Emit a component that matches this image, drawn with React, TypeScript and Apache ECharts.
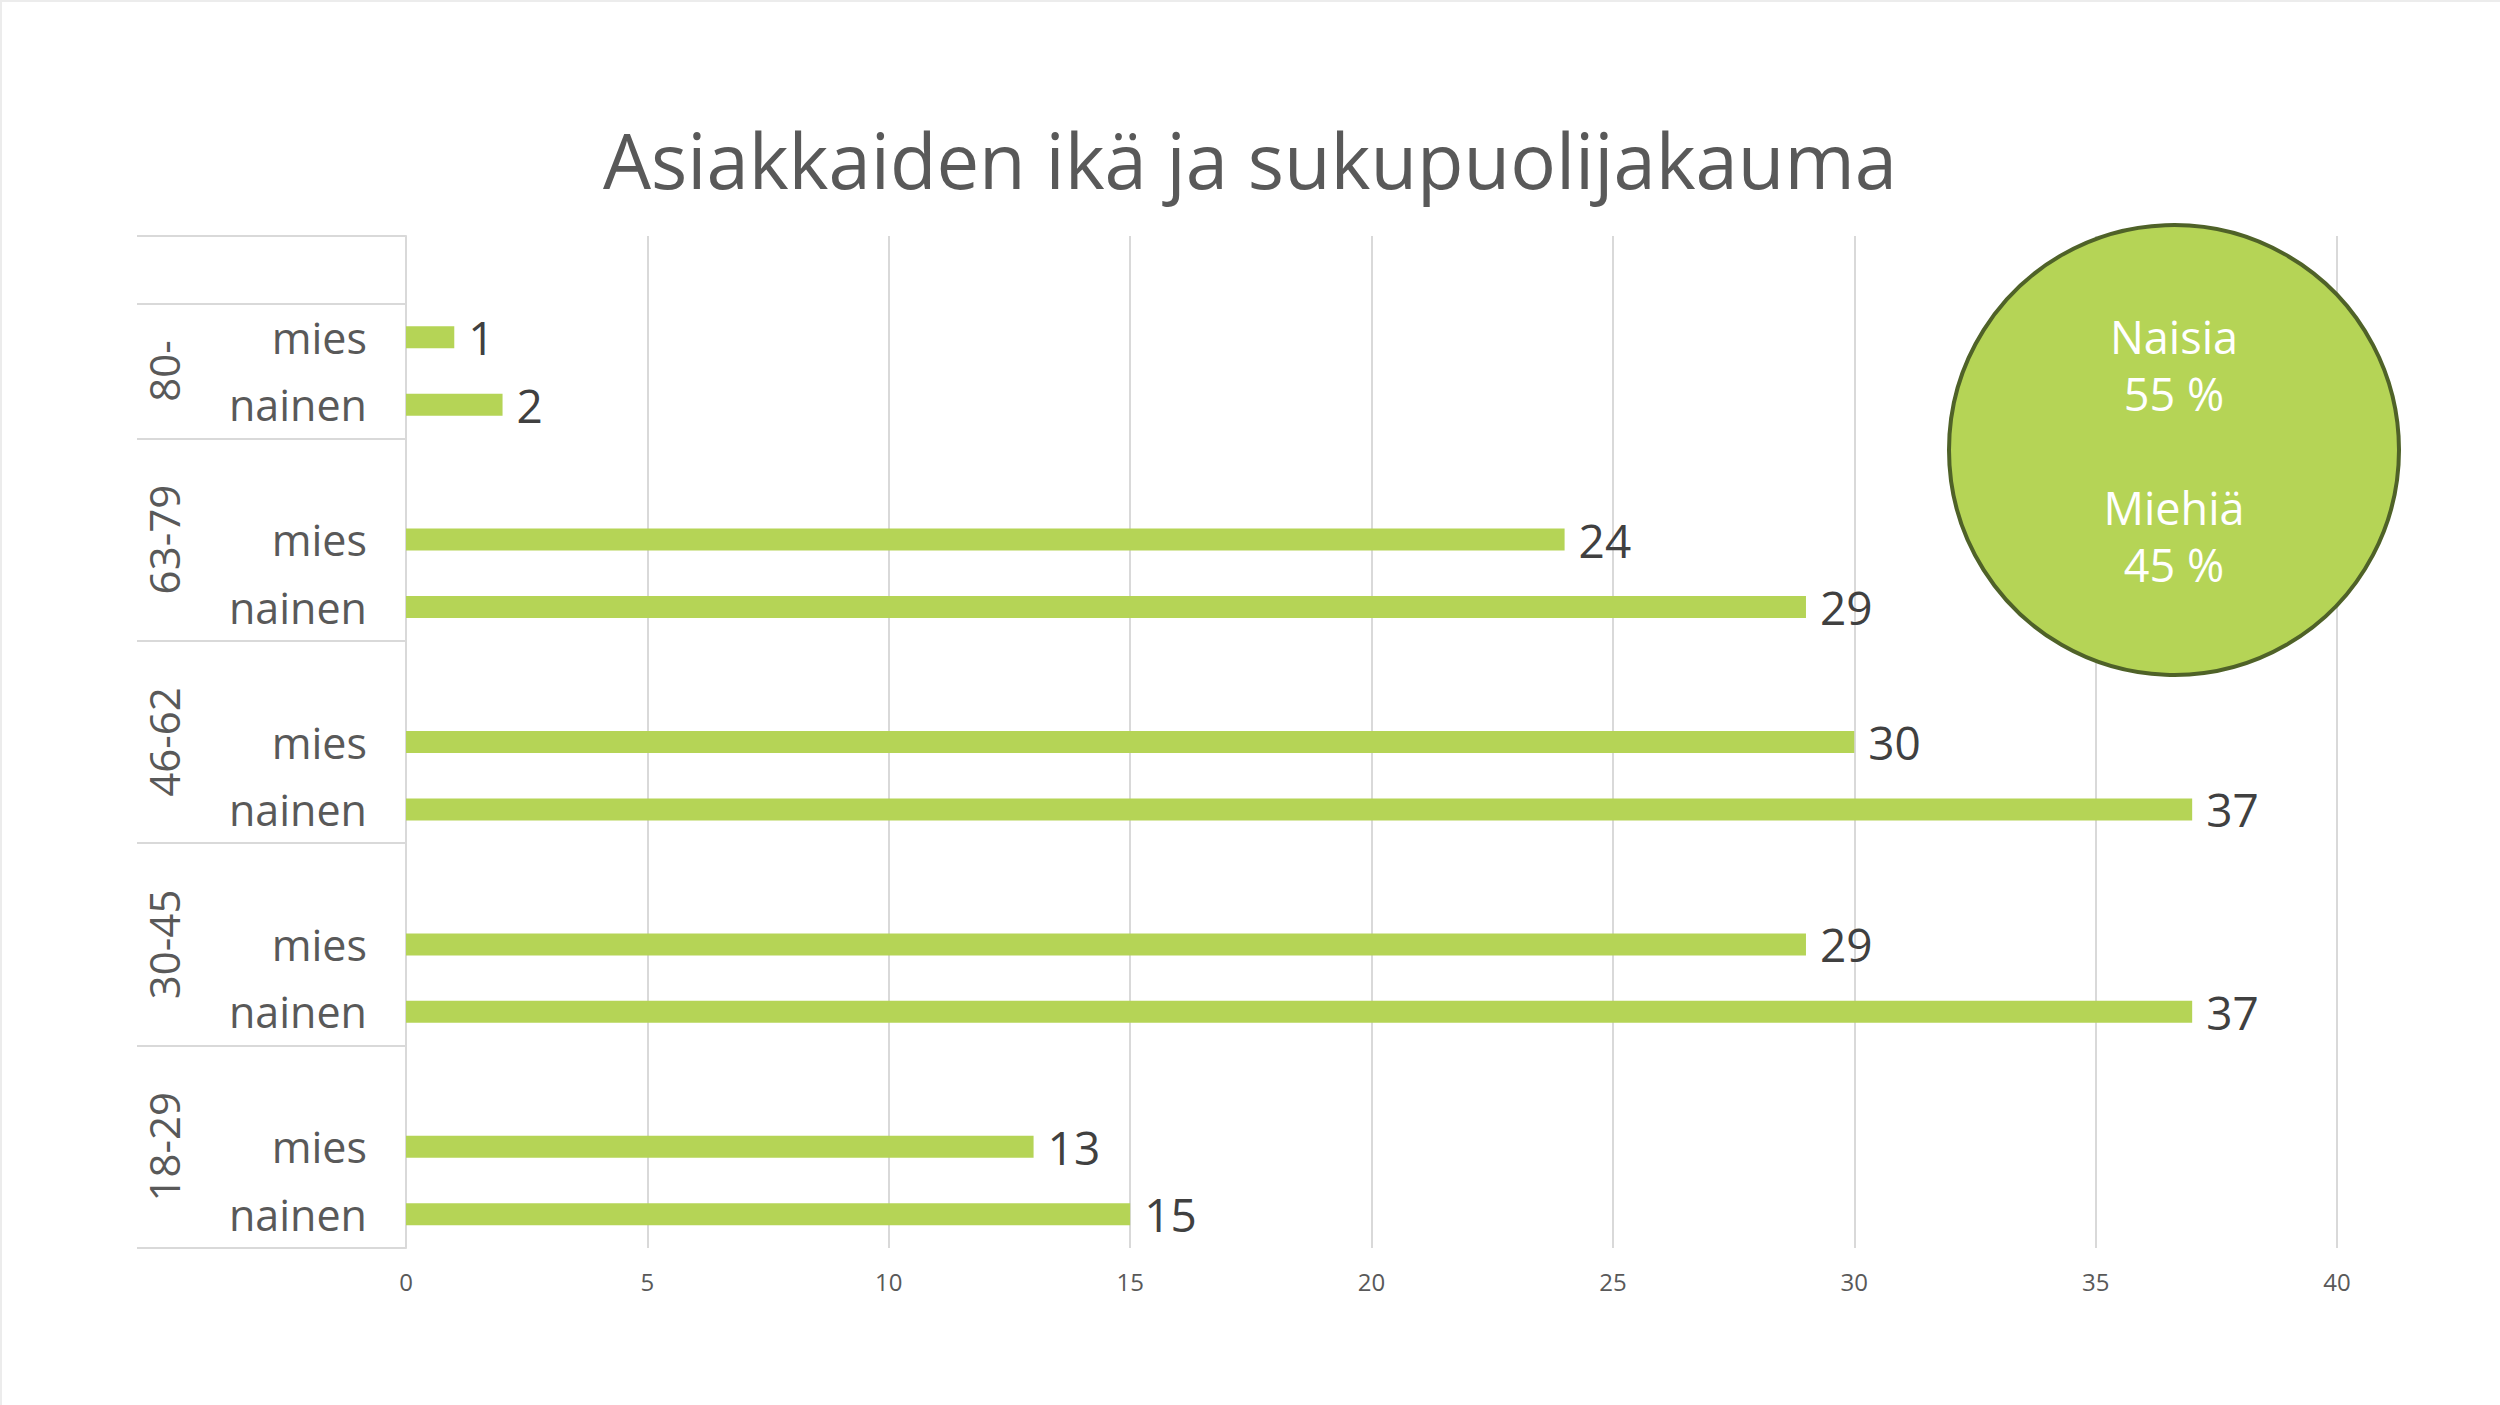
import React, { useEffect, useRef } from "react";
import * as echarts from "echarts";

const ageGroups = ["80-", "63-79", "46-62", "30-45", "18-29"];
const genders = ["mies", "nainen"];
const miesValues = [1, 24, 30, 29, 13];
const nainenValues = [2, 29, 37, 37, 15];
const xTicks = [0, 5, 10, 15, 20, 25, 30, 35, 40];
const titleText = "Asiakkaiden ikä ja sukupuolijakauma";
const bubbleText = ["Naisia", "55 %", "", "Miehiä", "45 %"];

const FONT = "'Open Sans', 'Noto Sans', sans-serif";
const GREEN = "#b5d456";
const GRAY = "#595959";
const LINE = "#d9d9d9";

// Build the 15 category slots: an empty slot, then mies, nainen per age group
const slotKeys: string[] = [];
const slotLabels: string[] = [];
const slotValues: (number | null)[] = [];
ageGroups.forEach((g, i) => {
  slotKeys.push(g + "|");
  slotLabels.push("");
  slotValues.push(null);
  slotKeys.push(g + "|" + genders[0]);
  slotLabels.push(genders[0]);
  slotValues.push(miesValues[i]);
  slotKeys.push(g + "|" + genders[1]);
  slotLabels.push(genders[1]);
  slotValues.push(nainenValues[i]);
});

// Frame of each group (in slot indices): first group excludes its empty slot
const groupTop = ageGroups.map((_, i) => (i === 0 ? 1 : 3 * i));
const groupBottom = ageGroups.map((_, i) => 3 * i + 3);
const boundaryTicks = [0, ...groupTop];
// Group label positions in half-slot units
const groupLabelAt: Record<number, string> = {};
ageGroups.forEach((g, i) => {
  groupLabelAt[groupTop[i] + groupBottom[i]] = g;
});

export default function App() {
  const ref = useRef<HTMLDivElement>(null);
  useEffect(() => {
    if (!ref.current) return;
    const chart = echarts.init(ref.current, undefined, { renderer: "svg" });
    chart.setOption({
      animation: false,
      backgroundColor: "#ffffff",
      title: {
        text: titleText,
        left: "center",
        top: 116,
        textStyle: { fontFamily: FONT, fontSize: 76, fontWeight: "normal", color: GRAY },
      },
      grid: { left: 406, right: 163, top: 236, bottom: 157, containLabel: false },
      xAxis: {
        type: "value",
        min: xTicks[0],
        max: xTicks[xTicks.length - 1],
        interval: xTicks[1] - xTicks[0],
        axisLine: { show: false },
        axisTick: { show: false },
        splitLine: { show: true, lineStyle: { color: LINE, width: 2 } },
        axisLabel: { fontFamily: FONT, fontSize: 24, color: GRAY, margin: 21 },
      },
      yAxis: [
        {
          type: "category",
          inverse: true,
          data: slotKeys,
          axisLine: { show: true, lineStyle: { color: LINE, width: 2 } },
          axisTick: {
            show: true,
            length: 269,
            interval: (index: number) => boundaryTicks.includes(index),
            lineStyle: { color: LINE, width: 2 },
          },
          axisLabel: {
            interval: 0,
            margin: 39,
            fontFamily: FONT,
            fontSize: 43,
            color: GRAY,
            formatter: (_v: string, idx: number) => slotLabels[idx],
          },
          splitLine: { show: false },
        },
        {
          type: "value",
          inverse: true,
          position: "left",
          min: 0,
          max: slotKeys.length * 2,
          interval: 1,
          axisLine: { show: false },
          axisTick: { show: false },
          splitLine: { show: false },
          axisLabel: {
            rotate: 90,
            margin: 222,
            fontFamily: FONT,
            fontSize: 42,
            color: GRAY,
            formatter: (v: number) => groupLabelAt[v] || "",
          },
        },
      ],
      series: [
        {
          type: "bar",
          yAxisIndex: 0,
          data: slotValues,
          barWidth: 22,
          itemStyle: { color: GREEN },
          label: {
            show: true,
            position: "right",
            distance: 14,
            fontFamily: FONT,
            fontSize: 46,
            color: "#404040",
            formatter: (p: any) => (p.value == null ? "" : String(p.value)),
          },
        },
      ],
      graphic: [
        {
          type: "line",
          shape: { x1: 1, y1: 0, x2: 1, y2: 1405 },
          style: { stroke: "#ececec", lineWidth: 2 },
        },
        {
          type: "line",
          shape: { x1: 0, y1: 1, x2: 2500, y2: 1 },
          style: { stroke: "#ececec", lineWidth: 2 },
        },
        {
          type: "circle",
          z: 10,
          shape: { cx: 2174, cy: 450, r: 225 },
          style: { fill: GREEN, stroke: "#4f6228", lineWidth: 4 },
        },
        {
          type: "text",
          z: 11,
          x: 2174,
          y: 450,
          style: {
            text: bubbleText.join("\n"),
            fontFamily: FONT,
            fontSize: 45,
            lineHeight: 57,
            fill: "#ffffff",
            textAlign: "center",
            textVerticalAlign: "middle",
          },
        },
      ],
    });
    return () => chart.dispose();
  }, []);
  return (
    <div
      ref={ref}
      style={{ position: "fixed", left: 0, top: 0, width: 2500, height: 1405 }}
    />
  );
}
